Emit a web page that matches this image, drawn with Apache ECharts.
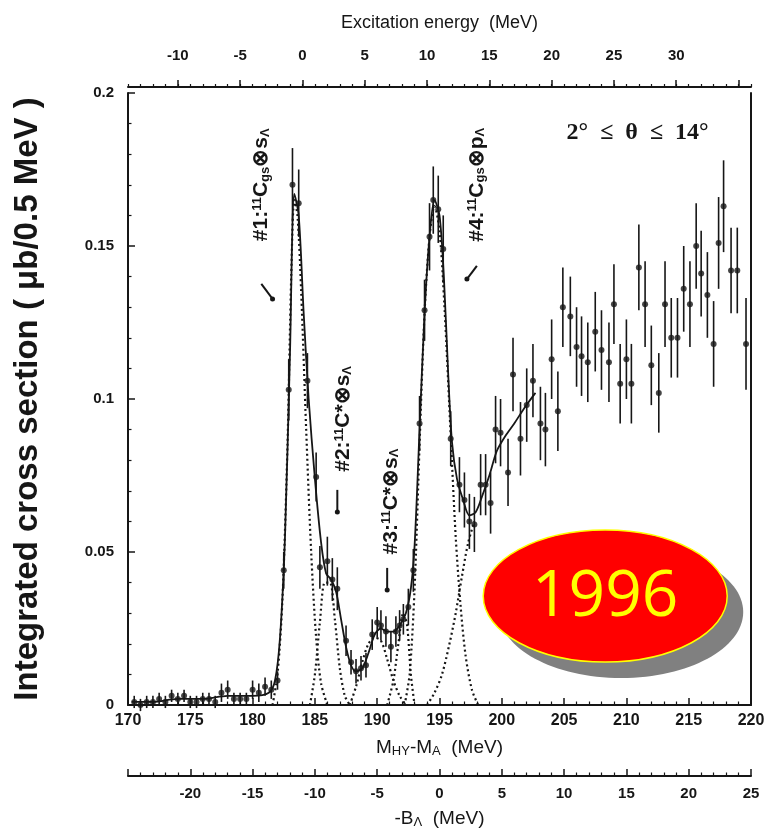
<!DOCTYPE html>
<html>
<head>
<meta charset="utf-8">
<script src="https://cdn.jsdelivr.net/npm/echarts@6/dist/echarts.min.js"></script>
<style>
  html, body { margin: 0; padding: 0; background: #fff; }
  #chart { width: 769px; height: 837px; }
</style>
</head>
<body>
<div id="chart"></div>
<script>
// measured spectrum: M_HY - M_A (MeV), cross section, error
const massX = [
  170.5, 171, 171.5, 172, 172.5, 173, 173.5, 174, 174.5, 175, 175.5, 176, 176.5, 177,
  177.5, 178, 178.5, 179, 179.5, 180, 180.5, 181, 181.5, 182, 182.5, 182.9, 183.2, 183.7,
  184.4, 185.1, 185.4, 186.0, 186.4, 186.8, 187.5, 187.9, 188.3, 188.7, 189.1, 189.6,
  190.0, 190.3, 190.7, 191.1, 191.5, 191.8, 192.1, 192.5, 192.9, 193.4, 193.8, 194.2,
  194.5, 194.9, 195.3, 195.9, 196.6, 197.0, 197.4, 197.8, 198.3, 198.7, 199.1, 199.5,
  199.9, 200.5, 200.9, 201.5, 202.0, 202.5, 203.1, 203.5, 204.0, 204.5, 204.9, 205.5,
  206.0, 206.4, 206.9, 207.5, 208.0, 208.6, 209.0, 209.5, 210.0, 210.4, 211.0, 211.5,
  212.0, 212.6, 213.1, 213.6, 214.1, 214.6, 215.1, 215.6, 216.0, 216.5, 217.0, 217.4,
  217.8, 218.4, 218.9, 219.6
];
const crossY = [
  0.001, 0.000, 0.001, 0.001, 0.002, 0.001, 0.003, 0.002, 0.003, 0.001, 0.001, 0.002, 0.002, 0.001,
  0.004, 0.005, 0.002, 0.002, 0.002, 0.005, 0.004, 0.006, 0.005, 0.008, 0.044, 0.103, 0.170, 0.164,
  0.106, 0.0745, 0.045, 0.047, 0.041, 0.038, 0.021, 0.014, 0.011, 0.012, 0.013, 0.023,
  0.027, 0.026, 0.024, 0.019, 0.024, 0.026, 0.028, 0.032, 0.044, 0.092, 0.129, 0.153,
  0.165, 0.162, 0.149, 0.087, 0.072, 0.067, 0.060, 0.059, 0.072, 0.072, 0.066, 0.090,
  0.089, 0.076, 0.108, 0.087, 0.098, 0.106, 0.092, 0.090, 0.113, 0.096, 0.130, 0.127,
  0.117, 0.114, 0.112, 0.122, 0.116, 0.112, 0.131, 0.105, 0.113, 0.105, 0.143, 0.131,
  0.111, 0.102, 0.131, 0.120, 0.120, 0.136, 0.131, 0.150, 0.141, 0.134, 0.118, 0.151,
  0.163, 0.142, 0.142, 0.118
];
const crossErr = [
  0.002, 0.002, 0.002, 0.002, 0.002, 0.002, 0.002, 0.002, 0.002, 0.002, 0.002, 0.002, 0.002, 0.002,
  0.003, 0.003, 0.002, 0.002, 0.002, 0.003, 0.003, 0.003, 0.003, 0.003, 0.006, 0.010, 0.012, 0.011,
  0.009, 0.008, 0.007, 0.008, 0.007, 0.007, 0.005, 0.004, 0.004, 0.004, 0.004, 0.005,
  0.005, 0.005, 0.005, 0.005, 0.005, 0.005, 0.005, 0.006, 0.007, 0.009, 0.010, 0.011,
  0.011, 0.011, 0.011, 0.009, 0.009, 0.009, 0.009, 0.009, 0.010, 0.010, 0.010, 0.011,
  0.011, 0.011, 0.012, 0.012, 0.012, 0.012, 0.012, 0.012, 0.013, 0.013, 0.013, 0.013,
  0.013, 0.013, 0.013, 0.013, 0.013, 0.013, 0.013, 0.013, 0.013, 0.013, 0.014, 0.014,
  0.013, 0.013, 0.014, 0.013, 0.013, 0.014, 0.014, 0.014, 0.014, 0.014, 0.014, 0.015,
  0.015, 0.014, 0.014, 0.015
];

// fitted total curve (solid) and components (dotted)
const fitTotal = [
  [170.3, 0.001], [172, 0.001], [174, 0.002], [176, 0.002], [178, 0.003], [180, 0.003],
  [181.3, 0.004], [181.8, 0.008], [182.2, 0.022], [182.6, 0.055], [183.0, 0.115],
  [183.35, 0.167], [183.7, 0.160], [184.1, 0.128], [184.5, 0.100], [185.0, 0.074],
  [185.5, 0.053], [185.9, 0.043], [186.3, 0.041], [186.7, 0.037], [187.1, 0.028],
  [187.5, 0.019], [187.9, 0.013], [188.3, 0.011], [188.8, 0.012], [189.3, 0.017],
  [189.8, 0.023], [190.3, 0.025], [190.8, 0.024], [191.3, 0.024], [191.8, 0.026],
  [192.3, 0.030], [192.7, 0.038], [193.0, 0.052], [193.4, 0.090], [193.8, 0.128],
  [194.2, 0.153], [194.6, 0.165], [195.0, 0.160], [195.35, 0.140], [195.7, 0.108],
  [196.0, 0.086], [196.4, 0.074], [196.9, 0.067], [197.4, 0.062], [197.9, 0.063],
  [198.4, 0.068], [199.0, 0.075], [199.6, 0.083], [200.3, 0.088], [201.0, 0.092],
  [201.8, 0.097], [202.7, 0.102]
];
const comp1 = [[181.6, 0], [182, 0.010], [182.4, 0.035], [182.8, 0.085], [183.1, 0.140], [183.35, 0.165],
  [183.6, 0.160], [183.9, 0.135], [184.3, 0.090], [184.7, 0.050], [185.1, 0.022], [185.5, 0.007], [186, 0]];
const comp2 = [[184.6, 0], [185, 0.010], [185.4, 0.027], [185.8, 0.040], [186.2, 0.040], [186.6, 0.028],
  [187, 0.012], [187.4, 0.003], [187.8, 0]];
const comp3 = [[187.8, 0], [188.3, 0.006], [188.8, 0.014], [189.3, 0.020], [189.8, 0.022], [190.3, 0.021],
  [190.8, 0.015], [191.3, 0.008], [191.8, 0.003], [192.3, 0]];
const comp3b = [[190.8, 0], [191.3, 0.008], [191.7, 0.020], [192.1, 0.030], [192.4, 0.026], [192.7, 0.010], [193.0, 0]];
const comp4 = [[192.2, 0], [192.6, 0.010], [193.0, 0.038], [193.4, 0.085], [193.8, 0.128], [194.2, 0.153],
  [194.6, 0.163], [195.0, 0.155], [195.4, 0.130], [195.9, 0.088], [196.3, 0.055], [196.7, 0.032],
  [197.1, 0.016], [197.6, 0.005], [198.1, 0]];
const comp5 = [[194.0, 0], [194.6, 0.004], [195.2, 0.010], [195.8, 0.020], [196.3, 0.030], [196.8, 0.042],
  [197.3, 0.053], [197.8, 0.060]];

const topTickMajor = [-10, -5, 0, 5, 10, 15, 20, 25, 30, 35];

const INK = '#161616';
const FONT = '"Liberation Sans", Arial, sans-serif';

const chart = echarts.init(document.getElementById('chart'));

const tickLabel = { color: INK, fontFamily: FONT, fontWeight: 'bold', fontSize: 15 };
const titleStyle = { color: INK, fontFamily: FONT, fontSize: 18 };
const subRich = { sub: { fontSize: 13, verticalAlign: 'bottom', padding: [8, 0, 0, 0], color: INK, fontFamily: FONT } };

const option = {
  backgroundColor: '#fff',
  animation: false,
  grid: { left: 128, right: 18, top: 93, bottom: 132, containLabel: false },
  xAxis: [
    {
      // M_HY - M_A
      type: 'value', position: 'bottom', min: 170, max: 220, interval: 5,
      axisLine: { onZero: false, lineStyle: { color: INK, width: 2 } },
      axisTick: { inside: true, length: 7, lineStyle: { color: INK, width: 1.5 } },
      minorTick: { show: true, splitNumber: 5, length: 3.5, lineStyle: { color: INK, width: 1.2 } },
      splitLine: { show: false },
      axisLabel: Object.assign({}, tickLabel, { margin: 8, fontSize: 16 }),
      name: 'M{sub|HY}-M{sub|A}  (MeV)', nameLocation: 'middle', nameGap: 32,
      nameTextStyle: Object.assign({ rich: subRich }, titleStyle, { fontSize: 19 })
    },
    {
      // excitation energy: minor ticks + labels
      type: 'value', position: 'top', offset: 6, min: -14, max: 36, interval: 1,
      axisLine: { onZero: false, lineStyle: { color: INK, width: 2 } },
      axisTick: { inside: false, length: 3, lineStyle: { color: INK, width: 1.2 } },
      splitLine: { show: false },
      axisLabel: Object.assign({ margin: 24, formatter: v => (v % 5 === 0 && v <= 30 ? String(v) : '') }, tickLabel),
      name: 'Excitation energy  (MeV)', nameLocation: 'middle', nameGap: 55,
      nameTextStyle: titleStyle
    },
    {
      // excitation energy: major ticks
      type: 'value', position: 'top', offset: 6, min: -14, max: 36,
      axisLine: { show: false, onZero: false },
      axisTick: { inside: false, length: 7, customValues: topTickMajor, lineStyle: { color: INK, width: 1.5 } },
      splitLine: { show: false },
      axisLabel: { show: false }
    },
    {
      // -B_Lambda
      type: 'value', position: 'bottom', offset: 71, min: -25, max: 25, interval: 5,
      axisLine: { onZero: false, lineStyle: { color: INK, width: 2 } },
      axisTick: { inside: true, length: 7, lineStyle: { color: INK, width: 1.5 } },
      minorTick: { show: true, splitNumber: 5, length: 3.5, lineStyle: { color: INK, width: 1.2 } },
      splitLine: { show: false },
      axisLabel: Object.assign({ margin: 10, formatter: v => (v === -25 ? '' : String(v)) }, tickLabel),
      name: '-B{sub|Λ}  (MeV)', nameLocation: 'middle', nameGap: 32,
      nameTextStyle: Object.assign({ rich: subRich }, titleStyle, { fontSize: 19 })
    }
  ],
  yAxis: [
    {
      type: 'value', position: 'left', min: 0, max: 0.2, interval: 0.05,
      axisLine: { show: true, onZero: false, lineStyle: { color: INK, width: 2 } },
      axisTick: { show: true, inside: true, length: 7, lineStyle: { color: INK, width: 1.5 } },
      minorTick: { show: true, splitNumber: 5, length: 3.5, lineStyle: { color: INK, width: 1.2 } },
      splitLine: { show: false },
      axisLabel: Object.assign({ margin: 14 }, tickLabel),
      name: 'Integrated cross section ( μb/0.5 MeV )', nameLocation: 'middle', nameGap: 84,
      nameTextStyle: { color: INK, fontFamily: FONT, fontWeight: 'bold', fontSize: 33 }
    },
    {
      type: 'value', position: 'right', min: 0, max: 0.2,
      axisLine: { show: true, onZero: false, lineStyle: { color: INK, width: 2 } },
      axisTick: { show: false }, axisLabel: { show: false }, splitLine: { show: false }
    }
  ],
  series: [
    {
      name: 'fit', type: 'line', data: fitTotal, showSymbol: false, smooth: 0.3,
      lineStyle: { color: INK, width: 1.8 }, z: 3
    },
    ...[comp1, comp2, comp3, comp3b, comp4, comp5].map(c => ({
      type: 'line', data: c, showSymbol: false, smooth: 0.3,
      lineStyle: { color: INK, width: 2.2, type: [2, 3] }, z: 2
    })),
    {
      name: 'errors', type: 'custom',
      data: massX.map((m, i) => [m, crossY[i] - crossErr[i], crossY[i] + crossErr[i]]),
      encode: { x: 0, y: [1, 2] },
      renderItem: (params, api) => {
        const lo = api.coord([api.value(0), api.value(1)]);
        const hi = api.coord([api.value(0), api.value(2)]);
        return {
          type: 'line',
          shape: { x1: lo[0], y1: lo[1], x2: hi[0], y2: hi[1] },
          style: { stroke: INK, lineWidth: 1.6 }
        };
      },
      z: 4
    },
    {
      name: 'data', type: 'scatter', data: massX.map((m, i) => [m, crossY[i]]),
      symbol: 'circle', symbolSize: 6, itemStyle: { color: INK }, z: 5
    }
  ]
};

chart.setOption(option);

// annotations placed in data coordinates
function px(m, y) { return chart.convertToPixel({ xAxisIndex: 0, yAxisIndex: 0 }, [m, y]); }

const annRich = {
  sup: { fontSize: 13, verticalAlign: 'top', padding: [0, 0, 7, 0], fontFamily: FONT, fontWeight: 'bold', fill: INK },
  sub: { fontSize: 13, verticalAlign: 'bottom', padding: [7, 0, 0, 0], fontFamily: FONT, fontWeight: 'bold', fill: INK }
};
function annText(text, m, y) {
  const p = px(m, y);
  return {
    type: 'text', x: p[0], y: p[1], rotation: Math.PI / 2,
    style: { text, rich: annRich, font: 'bold 21px ' + FONT, fill: INK, align: 'center', verticalAlign: 'middle' }
  };
}
function annArrow(m1, y1, m2, y2) {
  const a = px(m1, y1), b = px(m2, y2);
  return [
    { type: 'line', shape: { x1: a[0], y1: a[1], x2: b[0], y2: b[1] }, style: { stroke: INK, lineWidth: 2 } },
    { type: 'circle', shape: { cx: b[0], cy: b[1], r: 2.5 }, style: { fill: INK } }
  ];
}

const badge = px(208.3, 0.0356);
const theta = px(210.9, 0.187);

chart.setOption({
  graphic: [
    annText('#1:{sup|11}C{sub|gs}⊗s{sub|Λ}', 180.7, 0.170),
    ...annArrow(180.7, 0.1376, 181.6, 0.1327),
    annText('#2:{sup|11}C*⊗s{sub|Λ}', 187.3, 0.0935),
    ...annArrow(186.8, 0.0703, 186.8, 0.0631),
    annText('#3:{sup|11}C*⊗s{sub|Λ}', 191.1, 0.0665),
    ...annArrow(190.8, 0.0448, 190.8, 0.0376),
    annText('#4:{sup|11}C{sub|gs}⊗p{sub|Λ}', 198.0, 0.170),
    ...annArrow(198.0, 0.1435, 197.2, 0.1392),
    {
      type: 'text', x: theta[0], y: theta[1],
      style: { text: '2°  ≤  θ  ≤  14°', font: 'bold 24px "Liberation Serif", "DejaVu Serif", serif', fill: INK, align: 'center', verticalAlign: 'middle' }
    },
    {
      type: 'ellipse', shape: { cx: badge[0] + 16, cy: badge[1] + 16, rx: 122, ry: 66 },
      style: { fill: '#808080' }, z: 100
    },
    {
      type: 'ellipse', shape: { cx: badge[0], cy: badge[1], rx: 122, ry: 66 },
      style: { fill: '#ff0000', stroke: '#ffff00', lineWidth: 1.5 }, z: 101
    },
    {
      type: 'text', x: badge[0], y: badge[1] + 2, z: 102,
      style: { text: '1996', font: '64px "Open Sans", sans-serif', fill: '#ffff00', align: 'center', verticalAlign: 'middle' }
    }
  ]
});
</script>
</body>
</html>
